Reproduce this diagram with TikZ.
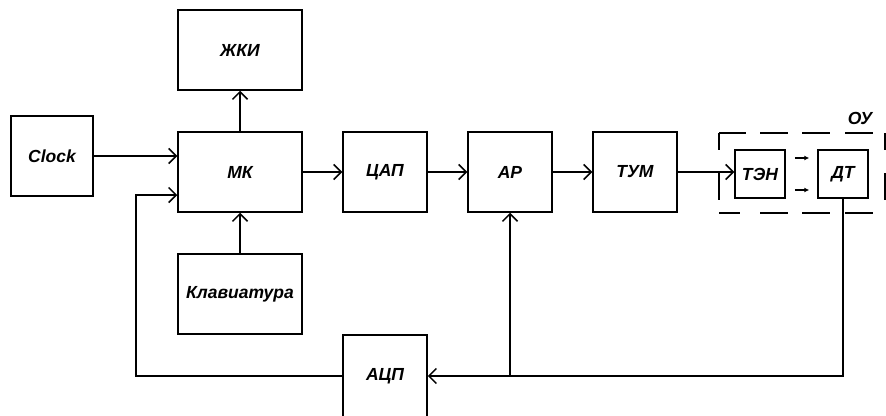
\documentclass[tikz,border=0pt]{standalone}
\usepackage{fontspec}
\setmainfont{Liberation Sans}
\usetikzlibrary{arrows.meta,calc}
\begin{document}
\begin{tikzpicture}[x=1pt,y=-1pt,
  lbl/.style={font=\fontsize{17.5}{20}\selectfont\bfseries\itshape},
  blk/.style={draw, line width=1.5pt, inner sep=0pt, lbl},
  conn/.style={line width=1.5pt, -{Straight Barb[length=7.5pt,width=15pt,line width=1.5pt]}},
  small/.style={line width=1.5pt, -{Latex[length=5pt,width=5pt]}, shorten <=9pt, shorten >=8pt},
  frame/.style={line width=2.8pt}]
\useasboundingbox (0,0) rectangle (886,415);
% blocks
\node[blk, minimum width=124pt, minimum height=80pt] (zhki) at (240,50) {ЖКИ};
\node[blk, minimum width=82pt, minimum height=80pt] (clock) at (52,156) {Clock};
\node[blk, minimum width=124pt, minimum height=80pt] (mk) at (240,172) {МК};
\node[blk, minimum width=124pt, minimum height=80pt] (klav) at (240,294) {Клавиатура};
\node[blk, minimum width=84pt, minimum height=80pt] (cap) at (385,172) {ЦАП};
\node[blk, minimum width=84pt, minimum height=80pt] (ar) at (510,172) {АР};
\node[blk, minimum width=84pt, minimum height=80pt] (tum) at (635,172) {ТУМ};
\node[blk, minimum width=50pt, minimum height=48pt] (ten) at (760,174) {ТЭН};
\node[blk, minimum width=50pt, minimum height=48pt] (dt) at (843,174) {ДТ};
\node[blk, minimum width=84pt, minimum height=82pt] (adc) at (385,376) {АЦП};
\node[lbl] (ou) at (860,118) {ОУ};
% dashed frame of ОУ
\draw[frame] (719,133) -- (746,133) (760,133) -- (788,133) (802,133) -- (830,133) (845,133) -- (873,133);
\draw[frame] (719,213) -- (740,213) (760,213) -- (788,213) (802,213) -- (830,213) (845,213) -- (873,213);
\draw[frame] (719,133) -- (719,150) (719,173) -- (719,200);
\draw[frame] (885,133) -- (885,150) (885,173) -- (885,200);
% connectors
\coordinate (fb) at (136,195);
\draw[conn] (clock) -- (clock -| mk.west);
\draw[conn] (mk.north) -- (zhki.south);
\draw[conn] (klav.north) -- (mk.south);
\draw[conn] (mk.east) -- (cap.west);
\draw[conn] (cap.east) -- (ar.west);
\draw[conn] (ar.east) -- (tum.west);
\draw[conn] (tum.east) -- (tum.east -| ten.west);
\draw[small] ([yshift=16pt]ten.east) -- ([yshift=16pt]ten.east -| dt.west);
\draw[small] ([yshift=-16pt]ten.east) -- ([yshift=-16pt]ten.east -| dt.west);
\draw[conn] (dt.south) |- (adc.east);
\coordinate (j) at (ar.south |- adc.east);
\draw[conn] (j) -- (ar.south);
\draw[conn] (adc.west) -| (fb) -- (fb -| mk.west);
\end{tikzpicture}
\end{document}
